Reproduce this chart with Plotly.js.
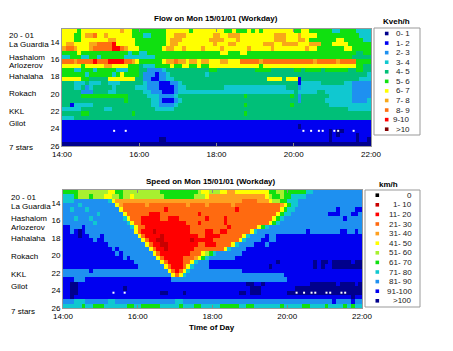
<!DOCTYPE html>
<html><head><meta charset="utf-8">
<script src="https://cdn.plot.ly/plotly-3.0.1.min.js"></script>
<style>html,body{margin:0;padding:0;background:#fff}#chart{width:453px;height:351px}</style>
</head><body><div id="chart"></div>
<script>
// ---------------- data ----------------
const timeTickVals = [14, 16, 18, 20, 22];
const timeTickText = ["14:00", "16:00", "18:00", "20:00", "22:00"];
const kmTickVals = [14, 16, 18, 20, 22, 24, 26];
const kmTickText = ["14", "16", "18", "20", "22", "24", "26"];
const locationNames = ["20 - 01", "La Guardia", "Hashalom", "Arlozerov", "Hahalaha", "Rokach", "KKL", "Gilot", "7 stars"];
const flowClasses = ["0- 1", "1- 2", "2- 3", "3- 4", "4- 5", "5- 6", "6- 7", "7- 8", "8- 9", "9-10", ">10"];
const speedClasses = ["0", "1- 10", "11- 20", "21- 30", "31- 40", "41- 50", "51- 60", "61- 70", "71- 80", "81- 90", "91-100", ">100"];
// one string per half-km row (12.5 -> 26), one character per 6-minute interval (14:00 -> 22:00)
// character = class index (0..9, a=10, b=11), x = no data
const flowRows = [
"6666566666 6666676655 5555555666 6665666666 6655655565 6566666666 5566555555 3355553333",
"6665567786 6766666655 5335555667 7766666667 7667776666 6666677766 6766665555 5555555333",
"6665566666 6677666665 5555555677 7666666677 7766676666 6666677766 6776555555 5665555533",
"6776666778 8889666665 5555555677 6666666667 6667766666 6677766777 7666777555 6666555555",
"7887666788 8889987666 5555556776 6766667666 6766666676 6666766666 6667665555 5556655555",
"5555655555 5555555355 3355555555 5555555555 5665556655 5555555555 5555555555 5555554455",
"3355533553 5555553333 3333555555 5555555555 5555555555 5555555555 5555555555 5555544444",
"8887888898 8899998876 5555556778 7767767766 6776668888 8788888888 8888878888 8788885555",
"6666656666 6776666555 4333555565 5665565566 6666666666 6566666666 6666666666 6666665544",
"5553355535 5555333555 4422223444 4444444455 4444444444 5555444444 5545555455 5555445544",
"5555553555 5553565555 4222122344 4444444344 4444444444 4444444444 4444444444 4444444443",
"6666655444 4466666664 4221122334 4444444444 4444444444 4446666466 6144444444 4444444333",
"4443334333 4433344444 4322211122 3444444444 4444444444 4444444444 4133333444 4443322222",
"4443342344 4443444443 3322211112 3344444444 4433333333 3333333344 4233333333 3333322222",
"4444422244 4433444444 4332221112 3333333333 3333333333 3333333333 4333334433 3333322222",
"4444455555 5555555444 4433322223 4444444444 4444444544 4444444445 4244444443 3333322222",
"4444444444 4444445444 4443321112 3444444444 4444444444 4444444444 4244444433 3333322223",
"4413333344 4444444444 4443322223 4444444444 4444444544 4444444445 4444444443 3333333333",
"3333344444 4334444444 4444333334 4444444444 4444444444 4444444444 4444444444 4444333333",
"4444455444 4444444454 4444444444 4444444444 4444444544 4444444444 4444444444 4444444444",
"3334444444 4444444444 4444444444 4444444444 4444444444 4444444444 4444444444 4444444444",
"1111111111 1111111111 1111111111 1111111111 1111111111 1111111111 1111111111 1111111111",
"1111111111 1111111111 1111111111 1111111111 1111111111 1111111111 1011111111 1111111111",
"1111111111 111x11x111 1111111111 1111111111 1111111111 1111111111 11x1x1xx10 xx011x1111",
"1111111111 1111111111 1111111111 1111111111 1111111111 1111111111 1111111110 1011110111",
"1111111111 1111111111 1111100111 1111111111 1111111111 1111111111 1111111110 1111110110",
"0000000000 0000000000 0000000000 0000000000 0000000000 0000000000 0000000000 0000000000"
];
const speedRows = [
"7777666666 6655776666 6666667777 7777776556 6655445555 5555577667 7777788999 9999999999",
"8887666766 6556676656 6666666777 7777766654 4444444444 4444567767 7888899999 9999999999",
"8889999999 9985444444 4444444444 4444444444 4444444433 3344456677 8889999999 9999999999",
"9999899999 9999543333 3343333333 3334333343 3333343333 3333333345 7889999999 9999999999",
"9989998999 9999953333 3333333233 3333333333 3333332333 3333333357 8899999999 999a9999aa",
"9999999998 9999995333 3332223333 3333332333 3333333333 3333333578 8999999999 9aaa999aa9",
"9998999899 9999998533 3222223322 2333333323 3332333333 3333335789 9999999999 99999a9999",
"9999999989 9999999853 3222222222 2223332333 3332333333 3333357899 9999999999 9999999999",
"aa999a9999 9999999985 3322222222 2222333333 3333233333 3357899999 9999999999 9999999999",
"aa9aba9999 9999999995 3222122222 2222333322 3322333333 5899999999 99999a9999 9999aa99a9",
"aaaabaa999 a999999999 5322221222 2222223322 2233333358 9999a99aaa aaaaaaaaaa aaaaaaaaaa",
"aaaaaaaa9a a999999999 9532211222 2222122222 3333333589 999aa99aaa aaaaaaaaaa aaaaaaaaaa",
"aaaaaaaaaa aa99999999 9953221122 2222223322 2333358999 9aaa9aaaaa aaaaaaaaaa aaaaaaaaaa",
"aaaaaaaaaa aaa9a99999 9995322122 2222233333 333589999a aaaaaaaaaa aaaaaaaaaa aaaaaaaaaa",
"aaaaaaaaaa aaaa9a9999 9999532222 2222333567 89999999aa aaaaaaaaaa aaaaaaaaaa aaaaaaaaaa",
"aaaaaaaaaa aaaaaa9a99 9999953222 2233345789 999999aaaa aaaaaaaaaa aaaaaaaaaa aaaaaaaaaa",
"aaaaaaaaaa aaaaaaaaa9 9999995322 223358999a aaaaaaaaaa aaaaaaabaa aaaaaaabab babbbbbabb",
"aaaaaaaaaa aaaaaaaaaa 9999999532 223589999a aaaaaaaaaa aaaaabaaaa aaaaaaabab aabbbbbbbb",
"9999999a99 9999999999 9999999953 2358999999 99999999aa aaaaaaaaaa aaaaaaaaaa aaaaaaaaaa",
"9999999999 9999999999 9999999995 3589999999 9999999999 999999999a aaaaaaaaaa aaaaaaaaaa",
"aaa999aaaa aaaaaaaaaa aaaaaaaaa9 9999999999 9999999999 9999999999 aaaaaaaaaa aaaaaaaaaa",
"aabbaaaaaa aaaaaaaaaa aaaaaaaaaa aaaaaaaaaa aaaaaaaaab baabaaaaaa aaaaaabbbb bbbabbbbab",
"aabbaaaaaa aaaaaabaaa aaaaaaaaaa aaaaaaaaaa aaaaaaaaaa bbbaaaaaaa aabbbbbbbb bbbbbbbbbb",
"aabbaaaaaa aaaxaaxaaa aaaaaabbaa aabaaaaaaa aaaaaaabba bbbaaaaaaa bbxbxbxxbb xxbbxxbbbb",
"aabaaaaaaa aaaaaaaaaa aaaaaaaaaa aaaaaaaaaa aaaaaaaaaa aaaaaaaaaa aaaaaaaaaa aaaaaaabaa",
"9998889999 9988999999 9999999999 8899999999 9999999999 9999999999 9999999999 99a9999a99",
"8888878877 7888888778 8777778888 8788877888 8877777887 7888888878 8888778888 7888878788"
];

// ---------------- styling ----------------
const flowColors = ["#00008c", "#0000f0", "#1e90f0", "#10c8d0", "#00bf78", "#10e010", "#ffff00", "#f8a818", "#ff7010", "#ff0000", "#800000"];
const speedColors = ["#000000", "#c80000", "#ff0000", "#ff6a10", "#ffa020", "#ffff00", "#a8f030", "#10e010", "#10c8d0", "#1e90f0", "#0000f0", "#00008c"];
const CODE = "0123456789ab";
const X0 = 14.05, DX = 0.1, Y0 = 12.75, DY = 0.5;
function decode(rows) {
  return rows.map(r => r.replace(/ /g, "").split("").map(ch => ch === "x" ? null : CODE.indexOf(ch)));
}
function missing(z) {
  const xs = [], ys = [];
  z.forEach((row, i) => row.forEach((v, j) => { if (v === null) { xs.push(X0 + j * DX); ys.push(Y0 + i * DY); } }));
  return {xs, ys};
}
function steps(cols) {
  const n = cols.length, s = [];
  cols.forEach((c, i) => { s.push([i / n, c]); s.push([(i + 1) / n, c]); });
  return s;
}
const W = 453, H = 351;
const px = x => x / W, py = y => 1 - y / H;
const FONT = "Liberation Sans, Arial, Helvetica, sans-serif";

const flowZ = decode(flowRows), speedZ = decode(speedRows);
const flowGap = missing(flowZ), speedGap = missing(speedZ);
const traces = [
  {type: "heatmap", z: flowZ, x0: X0, dx: DX, y0: Y0, dy: DY, connectgaps: true,
   xaxis: "x", yaxis: "y", colorscale: steps(flowColors), zmin: -0.5, zmax: flowColors.length - 0.5,
   showscale: false, hoverinfo: "skip"},
  {type: "scatter", mode: "markers", x: flowGap.xs, y: flowGap.ys, xaxis: "x", yaxis: "y",
   marker: {symbol: "square", size: 2, color: "#fff", line: {width: 0}}, hoverinfo: "skip"},
  {type: "heatmap", z: speedZ, x0: X0, dx: DX, y0: Y0, dy: DY, connectgaps: true,
   xaxis: "x2", yaxis: "y2", colorscale: steps(speedColors), zmin: -0.5, zmax: speedColors.length - 0.5,
   showscale: false, hoverinfo: "skip"},
  {type: "scatter", mode: "markers", x: speedGap.xs, y: speedGap.ys, xaxis: "x2", yaxis: "y2",
   marker: {symbol: "square", size: 2, color: "#fff", line: {width: 0}}, hoverinfo: "skip"}
];

function xAx(domain, anchor) {
  return {domain, anchor, range: [14, 22], tickvals: timeTickVals, ticktext: timeTickText,
    tickfont: {size: 8, color: "#000"}, ticks: "inside", ticklen: 3, tickcolor: "#888",
    showline: true, linecolor: "#999", linewidth: 1, mirror: "allticks", showgrid: false, zeroline: false};
}
function yAx(domain, anchor) {
  return {domain, anchor, range: [26, 12.5], tickvals: kmTickVals, ticktext: kmTickText,
    tickfont: {size: 8, color: "#000"}, ticks: "", showline: true, linecolor: "#999", linewidth: 1,
    mirror: true, showgrid: false, zeroline: false};
}

const annotations = [];
const shapes = [];
function txt(x, y, text, opts) {
  annotations.push(Object.assign({xref: "paper", yref: "paper", x: px(x), y: py(y), text,
    showarrow: false, xanchor: "center", yanchor: "middle", font: {size: 8, color: "#000", family: FONT}}, opts || {}));
}
// titles
txt(215.5, 19, "<b>Flow on Mon 15/01/01 (Workday)</b>");
txt(211, 181, "<b>Speed on Mon 15/01/01 (Workday)</b>");
txt(211.5, 327, "<b>Time of Day</b>");
// location names (pixel rows of the two panels)
const flowNameY = [35.5, 44.5, 57.3, 65.7, 76.3, 93.7, 111, 123.3, 147.3];
const speedNameY = [197.5, 206.5, 218.6, 227.4, 239, 256.7, 274, 286.7, 311];
locationNames.forEach((n, i) => {
  txt(7, flowNameY[i], n, {xanchor: "left"});
  txt(9, speedNameY[i], n, {xanchor: "left"});
});
// legends
function legend(classes, colors, box, title, titleX, titleAnchor, markX, textX, y0, dy) {
  shapes.push({type: "rect", xref: "paper", yref: "paper", x0: px(box[0]), x1: px(box[1]), y0: py(box[3]), y1: py(box[2]),
    line: {color: "#999", width: 1}, fillcolor: "rgba(0,0,0,0)"});
  txt(titleX, box[2] - 6, "<b>" + title + "</b>", {xanchor: titleAnchor});
  classes.forEach((c, i) => {
    const y = y0 + i * dy;
    shapes.push({type: "rect", xref: "paper", yref: "paper", x0: px(markX - 1.8), x1: px(markX + 1.8),
      y0: py(y + 1.8), y1: py(y - 1.8), line: {width: 0}, fillcolor: colors[i]});
    txt(textX, y, c, {xanchor: "right", font: {size: 8, color: "#222", family: FONT}});
  });
}
legend(flowClasses, flowColors, [374, 420, 28, 135], "Kveh/h", 396, "center", 386.7, 412, 33.5, 9.57);
legend(speedClasses, speedColors, [365, 420, 190, 307], "km/h", 377, "left", 377.3, 414, 195.2, 9.6);

const layout = {
  width: W, height: H, margin: {l: 0, r: 0, t: 0, b: 0},
  paper_bgcolor: "#fff", plot_bgcolor: "#fff",
  font: {family: FONT, size: 8, color: "#000"},
  xaxis: xAx([px(62), px(371)], "y"),
  yaxis: yAx([py(146), py(29)], "x"),
  xaxis2: xAx([px(63), px(362)], "y2"),
  yaxis2: yAx([py(308), py(190)], "x2"),
  annotations, shapes, showlegend: false
};
Plotly.newPlot("chart", traces, layout, {staticPlot: true, displayModeBar: false});
</script>
</body></html>
